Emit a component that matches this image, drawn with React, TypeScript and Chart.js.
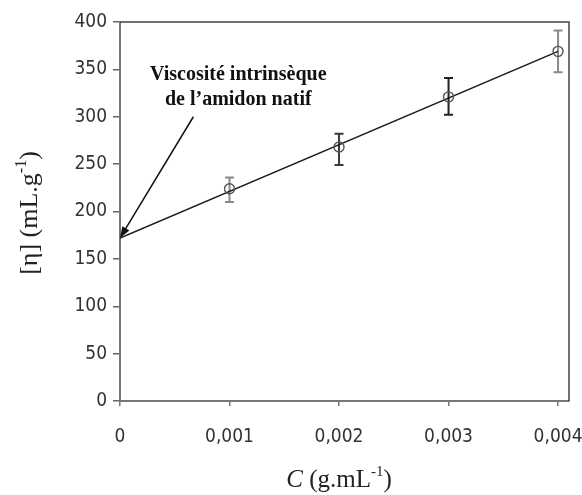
import React, { useEffect, useRef } from "react";
import { Chart, registerables } from "chart.js";

Chart.register(...registerables);

// ---- data ----
const concentrations = [0.001, 0.002, 0.003, 0.004];
const viscosity = [224, 268, 321, 369];
const errorHigh = [236, 282, 341, 391];
const errorLow = [210, 249, 302, 347];
const fitX = [0, 0.004];
const fitY = [172, 369];
const xTicks = [0, 0.001, 0.002, 0.003, 0.004];
const yTicks = [0, 50, 100, 150, 200, 250, 300, 350, 400];
const annotationLines = ["Viscosité intrinsèque", "de l’amidon natif"];
const annotationAnchor = { x: 0.00108, y1: 344, y2: 318 };
const arrowFrom = { x: 0.00067, y: 300 };
const arrowTo = { x: 0, y: 172 };

const errorColors = ["#8a8a8a", "#3a3a3a", "#222222", "#8a8a8a"];
const tickFont = "'DejaVu Sans Condensed', 'DejaVu Sans', sans-serif";
const serif = "'Liberation Serif', 'Times New Roman', serif";

function fmtX(v: number) {
  return v === 0 ? "0" : v.toFixed(3).replace(".", ",");
}

const decorPlugin = {
  id: "decor",
  beforeDatasetsDraw(chart: any) {
    const { ctx, chartArea, scales } = chart;
    const xs = scales.x;
    const ys = scales.y;
    ctx.save();
    ctx.strokeStyle = "#444";
    ctx.lineWidth = 1.5;
    ctx.beginPath();
    ctx.moveTo(chartArea.left, chartArea.top);
    ctx.lineTo(chartArea.right, chartArea.top);
    ctx.lineTo(chartArea.right, chartArea.bottom);
    ctx.stroke();
    concentrations.forEach((c, i) => {
      const px = xs.getPixelForValue(c);
      const hi = ys.getPixelForValue(errorHigh[i]);
      const lo = ys.getPixelForValue(errorLow[i]);
      ctx.strokeStyle = errorColors[i];
      ctx.lineWidth = 2;
      ctx.beginPath();
      ctx.moveTo(px, hi);
      ctx.lineTo(px, lo);
      ctx.moveTo(px - 4.5, hi);
      ctx.lineTo(px + 4.5, hi);
      ctx.moveTo(px - 4.5, lo);
      ctx.lineTo(px + 4.5, lo);
      ctx.stroke();
    });
    ctx.restore();
  },
  afterDraw(chart: any) {
    const { ctx, scales } = chart;
    const xs = scales.x;
    const ys = scales.y;
    ctx.save();
    ctx.fillStyle = "#111";
    ctx.font = `bold 20px ${serif}`;
    ctx.textAlign = "center";
    ctx.textBaseline = "middle";
    const ax = xs.getPixelForValue(annotationAnchor.x);
    ctx.fillText(annotationLines[0], ax, ys.getPixelForValue(annotationAnchor.y1));
    ctx.fillText(annotationLines[1], ax, ys.getPixelForValue(annotationAnchor.y2));
    const x0 = xs.getPixelForValue(arrowFrom.x);
    const y0 = ys.getPixelForValue(arrowFrom.y);
    const x1 = xs.getPixelForValue(arrowTo.x);
    const y1 = ys.getPixelForValue(arrowTo.y);
    const ang = Math.atan2(y1 - y0, x1 - x0);
    ctx.strokeStyle = "#111";
    ctx.lineWidth = 1.5;
    ctx.beginPath();
    ctx.moveTo(x0, y0);
    ctx.lineTo(x1 - 8 * Math.cos(ang), y1 - 8 * Math.sin(ang));
    ctx.stroke();
    ctx.fillStyle = "#111";
    ctx.beginPath();
    ctx.moveTo(x1, y1);
    ctx.lineTo(x1 - 12 * Math.cos(ang - 0.35), y1 - 12 * Math.sin(ang - 0.35));
    ctx.lineTo(x1 - 12 * Math.cos(ang + 0.35), y1 - 12 * Math.sin(ang + 0.35));
    ctx.closePath();
    ctx.fill();

    ctx.fillStyle = "#222";
    ctx.textBaseline = "alphabetic";
    ctx.textAlign = "left";
    const xParts = [
      { t: "C", f: `italic 25px ${serif}`, dy: 0 },
      { t: " (g.mL", f: `25px ${serif}`, dy: 0 },
      { t: "-1", f: `15px ${serif}`, dy: -11 },
      { t: ")", f: `25px ${serif}`, dy: 0 },
    ];
    let total = 0;
    xParts.forEach((p) => {
      ctx.font = p.f;
      total += ctx.measureText(p.t).width;
    });
    let cx = 339 - total / 2;
    const by = 487;
    xParts.forEach((p) => {
      ctx.font = p.f;
      ctx.fillText(p.t, cx, by + p.dy);
      cx += ctx.measureText(p.t).width;
    });
    const yParts = [
      { t: "[η] (mL.g", f: `26px ${serif}`, dy: 0 },
      { t: "-1", f: `16px ${serif}`, dy: -11 },
      { t: ")", f: `26px ${serif}`, dy: 0 },
    ];
    total = 0;
    yParts.forEach((p) => {
      ctx.font = p.f;
      total += ctx.measureText(p.t).width;
    });
    ctx.translate(37, 213);
    ctx.rotate(-Math.PI / 2);
    let cy = -total / 2;
    yParts.forEach((p) => {
      ctx.font = p.f;
      ctx.fillText(p.t, cy, p.dy);
      cy += ctx.measureText(p.t).width;
    });
    ctx.restore();
  },
};

export default function App() {
  const ref = useRef<HTMLCanvasElement>(null);
  useEffect(() => {
    if (!ref.current) return;
    const chart = new Chart(ref.current, {
      type: "scatter",
      data: {
        datasets: [
          {
            label: "fit",
            data: fitX.map((x, i) => ({ x, y: fitY[i] })),
            showLine: true,
            borderColor: "#1a1a1a",
            borderWidth: 1.6,
            pointRadius: 0,
            order: 2,
          },
          {
            label: "points",
            data: concentrations.map((x, i) => ({ x, y: viscosity[i] })),
            showLine: false,
            pointRadius: 5,
            pointBorderWidth: 1.4,
            pointBorderColor: "#555",
            pointBackgroundColor: "rgba(255,255,255,0)",
            order: 1,
          },
        ],
      },
      options: {
        animation: false,
        responsive: true,
        maintainAspectRatio: false,
        layout: { padding: { top: 22, right: 13, left: 0, bottom: 0 } },
        plugins: { legend: { display: false }, tooltip: { enabled: false } },
        scales: {
          x: {
            type: "linear",
            min: 0,
            max: 0.0041,
            afterBuildTicks: (s: any) => {
              s.ticks = xTicks.map((v) => ({ value: v }));
            },
            afterFit: (s: any) => {
              s.height = 94;
              s.paddingLeft = 0;
              s.paddingRight = 0;
            },
            ticks: {
              callback: (v: any) => fmtX(Number(v)),
              font: { family: tickFont, size: 19 },
              color: "#333",
              padding: 20,
              maxRotation: 0,
              autoSkip: false,
            },
            grid: {
              display: true,
              drawOnChartArea: false,
              drawTicks: true,
              tickLength: 5,
              color: "#777",
              lineWidth: 1.5,
            },
            border: { display: true, color: "#777", width: 2 },
          },
          y: {
            min: 0,
            max: 400,
            afterBuildTicks: (s: any) => {
              s.ticks = yTicks.map((v) => ({ value: v }));
            },
            afterFit: (s: any) => {
              s.width = 120;
              s.paddingTop = 0;
              s.paddingBottom = 0;
            },
            ticks: {
              font: { family: tickFont, size: 19 },
              color: "#333",
              padding: 6,
            },
            grid: {
              display: true,
              drawOnChartArea: false,
              drawTicks: true,
              tickLength: 7,
              color: "#666",
              lineWidth: 1.5,
            },
            border: { display: true, color: "#777", width: 2 },
          },
        },
      },
      plugins: [decorPlugin],
    });
    return () => chart.destroy();
  }, []);
  return (
    <div
      style={{
        position: "fixed",
        left: 0,
        top: 0,
        width: 582,
        height: 495,
        background: "#fff",
      }}
    >
      <canvas ref={ref} />
    </div>
  );
}
